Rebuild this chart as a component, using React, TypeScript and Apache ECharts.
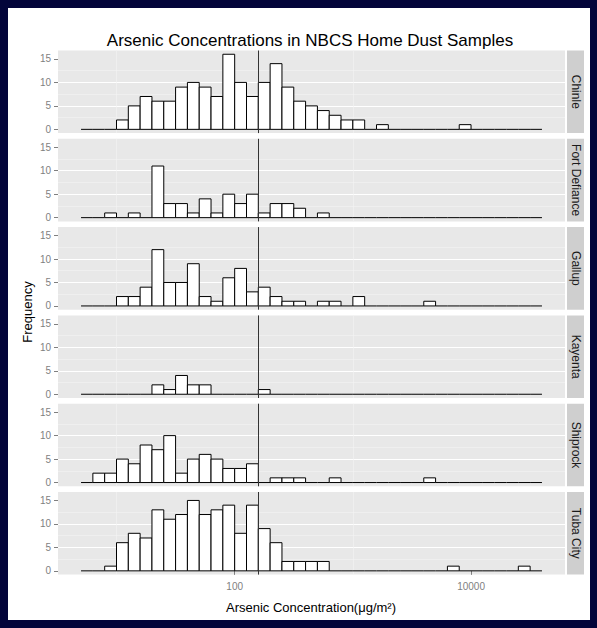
import React, { useEffect, useRef } from 'react';
import * as echarts from 'echarts';

// ---------- data ----------
const TITLE = 'Arsenic Concentrations in NBCS Home Dust Samples';
const X_TITLE = 'Arsenic Concentration(μg/m²)';
const Y_TITLE = 'Frequency';

const SITES = ['Chinle', 'Fort Defiance', 'Gallup', 'Kayenta', 'Shiprock', 'Tuba City'];

// histogram bins on log10 scale: first bin starts at 10^0.7, each bin 0.1 decades wide
const BIN_START_LOG = 0.7;
const BIN_WIDTH_LOG = 0.1;
// axis range (log10 units) incl. ggplot's 5% expansion
const X_MIN_LOG = 0.505;
const X_MAX_LOG = 4.795;
const X_TICKS = [100, 10000];
const Y_TICKS = [0, 5, 10, 15];
const Y_MIN = -0.8;
const Y_MAX = 16.8;
const REF_VALUE = 160;

const chinle = [0, 0, 0, 2, 5, 7, 6, 6, 9, 10, 9, 7, 16, 10, 7, 10, 14, 9, 6, 5, 4, 3, 2, 2, 0, 1, 0, 0, 0, 0, 0, 0, 1, 0, 0, 0, 0, 0, 0];
const fortDefiance = [0, 0, 1, 0, 1, 0, 11, 3, 3, 1, 4, 1, 5, 3, 5, 1, 3, 3, 2, 0, 1, 0, 0, 0, 0, 0, 0, 0, 0, 0, 0, 0, 0, 0, 0, 0, 0, 0, 0];
const gallup = [0, 0, 0, 2, 2, 4, 12, 5, 5, 9, 2, 1, 6, 8, 3, 4, 2, 1, 1, 0, 1, 1, 0, 2, 0, 0, 0, 0, 0, 1, 0, 0, 0, 0, 0, 0, 0, 0, 0];
const kayenta = [0, 0, 0, 0, 0, 0, 2, 1, 4, 2, 2, 0, 0, 0, 0, 1, 0, 0, 0, 0, 0, 0, 0, 0, 0, 0, 0, 0, 0, 0, 0, 0, 0, 0, 0, 0, 0, 0, 0];
const shiprock = [0, 2, 2, 5, 4, 8, 7, 10, 2, 5, 6, 5, 3, 3, 4, 0, 1, 1, 1, 0, 0, 1, 0, 0, 0, 0, 0, 0, 0, 1, 0, 0, 0, 0, 0, 0, 0, 0, 0];
const tubaCity = [0, 0, 1, 6, 8, 7, 13, 11, 12, 15, 12, 13, 14, 8, 14, 9, 6, 2, 2, 2, 2, 0, 0, 0, 0, 0, 0, 0, 0, 0, 0, 1, 0, 0, 0, 0, 0, 1, 0];

const COUNTS = [chinle, fortDefiance, gallup, kayenta, shiprock, tubaCity];

// ---------- layout / style ----------
const W = 597;
const H = 628;
const FONT = '"Liberation Sans", Arial, sans-serif';
const PANEL_LEFT = 58;
const PANEL_W = 507;
const PANEL_TOP0 = 50.5;
const PANEL_STEP = 88.3;
const PANEL_H = 82.6;
const STRIP_X = 567;
const STRIP_W = 17;
const PANEL_BG = '#E8E8E8';
const STRIP_BG = '#CFCFCF';
const TICK_COLOR = '#7F7F7F';
const NAVY = '#03053A';

function App() {
  const ref = useRef<HTMLDivElement>(null);

  useEffect(() => {
    if (!ref.current) return;
    const chart = echarts.init(ref.current, undefined, { renderer: 'svg' });

    const grids = SITES.map((_, i) => ({
      left: PANEL_LEFT,
      width: PANEL_W,
      top: PANEL_TOP0 + i * PANEL_STEP,
      height: PANEL_H,
      show: true,
      backgroundColor: PANEL_BG,
      borderWidth: 0,
    }));

    const xTickVals = X_TICKS.map((v) => Math.log10(v));
    const xAxes = SITES.map((_, i) => ({
      type: 'value',
      gridIndex: i,
      min: X_MIN_LOG,
      max: X_MAX_LOG,
      minInterval: 2,
      maxInterval: 2,
      axisLine: { show: false },
      axisTick: {
        show: i === SITES.length - 1,
        customValues: xTickVals,
        length: 4,
        lineStyle: { color: TICK_COLOR, width: 1 },
      },
      axisLabel: {
        show: i === SITES.length - 1,
        customValues: xTickVals,
        formatter: (v: number) => String(Math.round(Math.pow(10, v))),
        color: TICK_COLOR,
        fontSize: 10,
        fontFamily: FONT,
        margin: 7,
      },
      splitLine: { show: true, showMinLine: false, showMaxLine: false, lineStyle: { color: '#FFFFFF', width: 1 } },
      minorTick: { show: false, splitNumber: 2 },
      minorSplitLine: { show: true, lineStyle: { color: '#F3F3F3', width: 0.6 } },
    }));

    const yAxes = SITES.map((_, i) => ({
      type: 'value',
      gridIndex: i,
      min: Y_MIN,
      max: Y_MAX,
      minInterval: 5,
      maxInterval: 5,
      axisLine: { show: false },
      axisTick: { show: true, customValues: Y_TICKS, length: 4, lineStyle: { color: TICK_COLOR, width: 1 } },
      axisLabel: {
        show: true,
        customValues: Y_TICKS,
        color: TICK_COLOR,
        fontSize: 10,
        fontFamily: FONT,
        margin: 7,
      },
      splitLine: { show: true, showMinLine: false, showMaxLine: false, lineStyle: { color: '#FFFFFF', width: 1 } },
      minorTick: { show: false, splitNumber: 2 },
      minorSplitLine: { show: true, lineStyle: { color: '#F3F3F3', width: 0.6 } },
    }));

    const series = SITES.map((site, i) => ({
      type: 'custom',
      name: site,
      xAxisIndex: i,
      yAxisIndex: i,
      clip: false,
      encode: { x: [0, 1], y: 2 },
      data: COUNTS[i].map((c, k) => {
        const lo = BIN_START_LOG + k * BIN_WIDTH_LOG;
        return [lo, lo + BIN_WIDTH_LOG, c];
      }),
      renderItem: (params: any, api: any) => {
        const x0 = api.value(0);
        const x1 = api.value(1);
        const c = api.value(2);
        const pTop = api.coord([x0, c]);
        const pBase = api.coord([x1, 0]);
        if (!c) {
          return {
            type: 'line',
            shape: { x1: pTop[0], y1: pBase[1], x2: pBase[0], y2: pBase[1] },
            style: { stroke: '#000000', lineWidth: 1 },
          };
        }
        return {
          type: 'rect',
          shape: { x: pTop[0], y: pTop[1], width: pBase[0] - pTop[0], height: pBase[1] - pTop[1] },
          style: { fill: '#FFFFFF', stroke: '#000000', lineWidth: 1 },
        };
      },
      markLine: {
        silent: true,
        symbol: 'none',
        label: { show: false },
        lineStyle: { color: '#333333', width: 1, type: 'solid' },
        data: [{ xAxis: Math.log10(REF_VALUE) }],
      },
      z: 3,
    }));

    const graphics: any[] = [];
    SITES.forEach((site, i) => {
      const top = PANEL_TOP0 + i * PANEL_STEP;
      graphics.push({
        type: 'rect',
        shape: { x: STRIP_X, y: top, width: STRIP_W, height: PANEL_H },
        style: { fill: STRIP_BG },
        silent: true,
      });
      graphics.push({
        type: 'text',
        x: STRIP_X + STRIP_W / 2,
        y: top + PANEL_H / 2,
        rotation: -Math.PI / 2,
        style: {
          text: site,
          fill: '#1A1A1A',
          font: `12px ${FONT}`,
          align: 'center',
          verticalAlign: 'middle',
        },
        silent: true,
      });
    });
    graphics.push({
      type: 'text',
      x: 310,
      y: 40,
      style: { text: TITLE, fill: '#000000', font: `17px ${FONT}`, align: 'center', verticalAlign: 'middle' },
      silent: true,
    });
    graphics.push({
      type: 'text',
      x: 311,
      y: 607,
      style: { text: X_TITLE, fill: '#000000', font: `13px ${FONT}`, align: 'center', verticalAlign: 'middle' },
      silent: true,
    });
    graphics.push({
      type: 'text',
      x: 27,
      y: 312,
      rotation: Math.PI / 2,
      style: { text: Y_TITLE, fill: '#000000', font: `13px ${FONT}`, align: 'center', verticalAlign: 'middle' },
      silent: true,
    });

    chart.setOption({
      animation: false,
      backgroundColor: 'transparent',
      textStyle: { fontFamily: FONT },
      grid: grids,
      xAxis: xAxes,
      yAxis: yAxes,
      series,
      graphic: graphics,
    } as any);

    return () => chart.dispose();
  }, []);

  return (
    <div style={{ position: 'absolute', left: 0, top: 0, width: W, height: H, background: NAVY }}>
      <div style={{ position: 'absolute', left: 8, top: 8, width: 582, height: 612, background: '#FFFFFF' }} />
      <div ref={ref} style={{ position: 'absolute', left: 0, top: 0, width: W, height: H }} />
    </div>
  );
}

export default App;
